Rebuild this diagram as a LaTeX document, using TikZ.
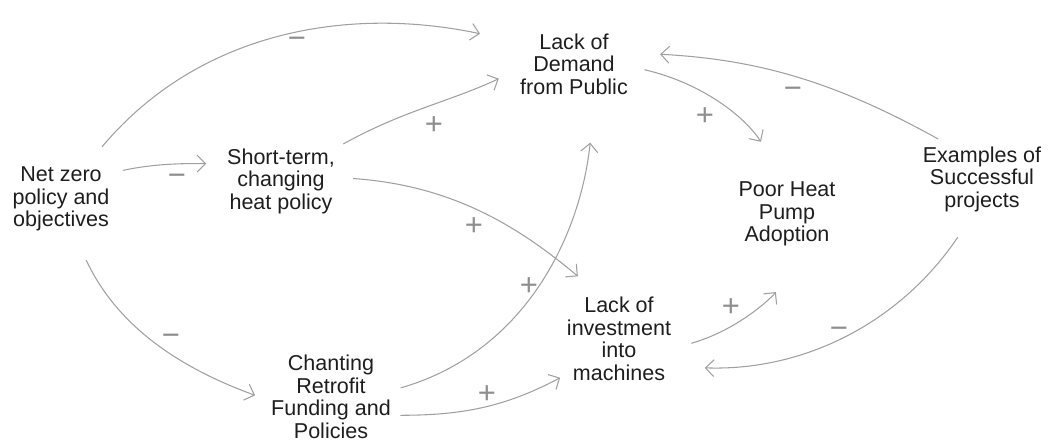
\documentclass[tikz,border=0pt]{standalone}
\usepackage{fontspec}
\setmainfont{Liberation Sans}
\usetikzlibrary{arrows.meta}

\definecolor{linkgray}{HTML}{A0A0A0}
\definecolor{signgray}{HTML}{8E8E8E}
\definecolor{textdark}{HTML}{1E1E1E}

\begin{document}
\begin{tikzpicture}[
    x=0.025cm, y=-0.025cm,
    >={Straight Barb[length=6pt,width=12pt]},
    factor/.style={align=center, inner sep=0pt, outer sep=0pt, text=textdark,
                   font=\fontsize{15.3}{16}\selectfont},
    link/.style={->, draw=linkgray, line width=0.75pt},
    sign/.style={text=signgray, inner sep=0pt, yshift=-2.5pt,
                 font=\fontsize{22}{22}\selectfont}
]
\useasboundingbox (0,0) rectangle (1055,442);

% ---------------- Factors ----------------
\node[factor] (nz)  at (61,199)  {Net zero\\policy and\\objectives};
\node[factor] (st)  at (281,181) {Short-term,\\changing\\heat policy};
\node[factor] (lod) at (574,64)  {Lack of\\Demand\\from Public};
\node[factor] (php) at (787,214) {Poor Heat\\Pump\\Adoption};
\node[factor] (ex)  at (982,179) {Examples of\\Successful\\projects};
\node[factor] (loi) at (619,339) {Lack of\\investment\\into\\machines};
\node[factor] (cha) at (331,397) {Chanting\\Retrofit\\Funding and\\Policies};

% ---------------- Links ----------------
% Net zero policy
\draw[link, shorten <=18.7pt, shorten >=29.2pt] (nz.53) to[out=50, in=168] (lod.158);
\draw[link, shorten <=9.8pt, shorten >=14.9pt] (nz.28) to[out=12, in=180] (st.162);
\draw[link, shorten <=22.7pt, shorten >=12.2pt] (nz.290) to[out=-65, in=160] (cha.184);

% Short-term heat policy
\draw[link, shorten <=6.9pt, shorten >=16.8pt] (st.31) to[out=29, in=-155] (lod.185);
\draw[link, shorten <=13pt, shorten >=23.3pt] (st.4) to[out=-4, in=140] (loi.111);

% Retrofit funding
\draw[link, shorten <=7.3pt, shorten >=34.5pt] (cha.6) to[out=16, in=-96] (lod.305);
\draw[link, shorten <=6.8pt, shorten >=5.5pt] (cha.343) to[out=0, in=-152] (loi.214);

% Demand and investment
\draw[link, shorten <=12.2pt, shorten >=34pt] (lod.358) to[out=-13, in=123] (php.90);
\draw[link, shorten <=15pt, shorten >=42pt] (loi.349) to[out=16, in=-129] (php.309);

% Successful projects
\draw[link, shorten <=11pt, shorten >=23pt] (ex.133) to[out=151, in=-3] (lod.12);
\draw[link, shorten <=22pt, shorten >=24pt] (ex.258) to[out=-124, in=-2] (loi.332);

% ---------------- Polarities ----------------
\node[sign] (s1)  at (297,39)  {−};
\node[sign] (s2)  at (177,176) {−};
\node[sign] (s3)  at (434,122) {+};
\node[sign] (s4)  at (474,223) {+};
\node[sign] (s5)  at (529,283) {+};
\node[sign] (s6)  at (487,391) {+};
\node[sign] (s7)  at (171,336) {−};
\node[sign] (s8)  at (705,113) {+};
\node[sign] (s9)  at (793,89)  {−};
\node[sign] (s10) at (731,304) {+};
\node[sign] (s11) at (839,329) {−};

\end{tikzpicture}
\end{document}
